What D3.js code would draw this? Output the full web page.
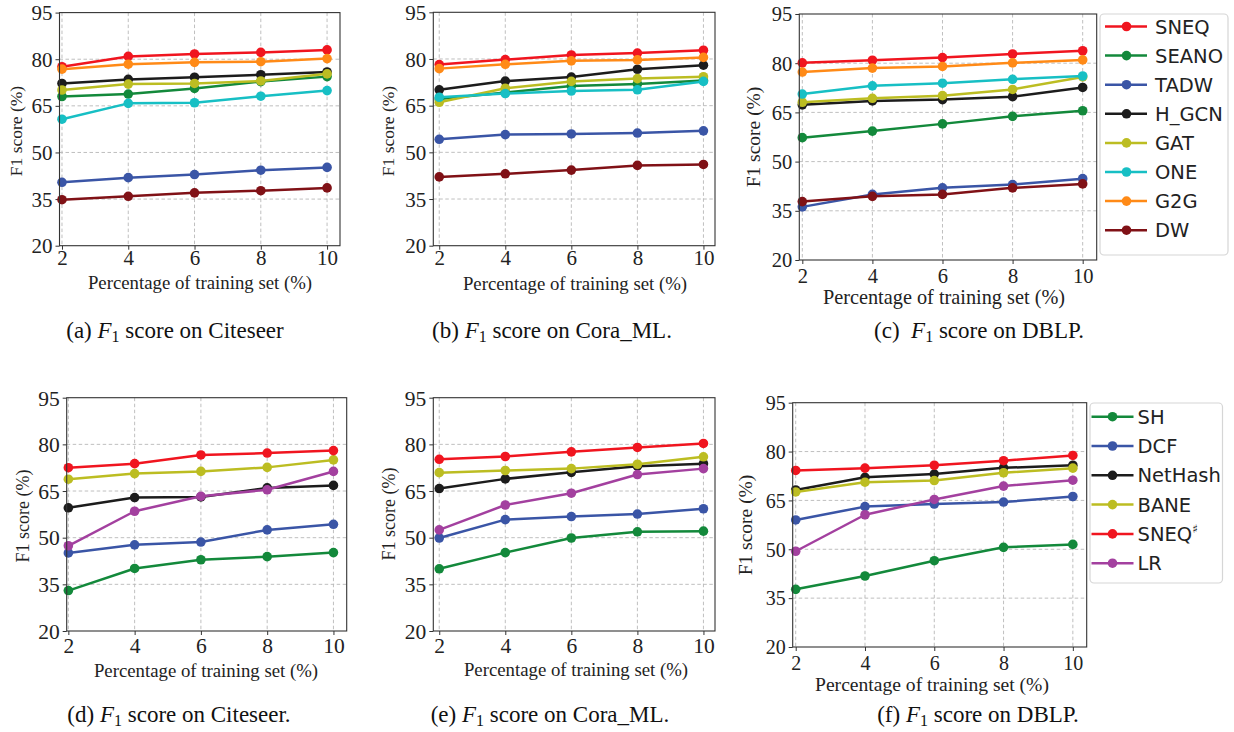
<!DOCTYPE html>
<html><head><meta charset="utf-8">
<script src="https://cdn.jsdelivr.net/npm/d3@7"></script>
<style>body{margin:0;background:#fff} svg{display:block}</style>
</head><body>
<svg id="chart" width="1234" height="732"></svg>
<script>
// ---------------- DATA ----------------
const xValues = [2, 4, 6, 8, 10];
const xTicks = [2, 4, 6, 8, 10];
const yTicks = [20, 35, 50, 65, 80, 95];

const topMethods = ["SNEQ", "SEANO", "TADW", "H_GCN", "GAT", "ONE", "G2G", "DW"];
const bottomMethods = ["SH", "DCF", "NetHash", "BANE", "SNEQ#", "LR"];

// rows follow topMethods order
const citeseerTop = [
  [77.6, 80.9, 81.7, 82.2, 83.0],
  [68.0, 68.8, 70.6, 72.8, 74.4],
  [40.4, 41.9, 42.9, 44.3, 45.2],
  [72.2, 73.5, 74.2, 75.0, 75.9],
  [70.1, 72.0, 72.2, 73.0, 75.3],
  [60.7, 65.8, 66.0, 68.1, 69.9],
  [76.8, 78.4, 79.0, 79.2, 80.2],
  [34.8, 35.9, 37.0, 37.7, 38.6]
];
const coraTop = [
  [78.2, 79.8, 81.3, 81.9, 82.8],
  [67.1, 69.2, 71.3, 72.0, 73.1],
  [54.2, 55.7, 55.9, 56.2, 56.9],
  [70.1, 72.9, 74.2, 76.7, 78.0],
  [66.1, 70.6, 72.8, 73.7, 74.3],
  [67.7, 68.9, 69.7, 70.1, 72.8],
  [76.9, 78.3, 79.4, 79.7, 80.5],
  [42.1, 43.1, 44.3, 45.8, 46.1]
];
const dblpTop = [
  [80.1, 80.9, 81.7, 82.8, 83.8],
  [57.3, 59.3, 61.5, 63.8, 65.5],
  [36.2, 40.0, 42.0, 43.0, 44.8],
  [67.3, 68.5, 68.9, 69.8, 72.6],
  [68.1, 69.3, 70.1, 72.0, 75.8],
  [70.6, 73.1, 73.9, 75.1, 76.1],
  [77.3, 78.5, 79.0, 80.1, 81.0],
  [37.8, 39.4, 40.0, 42.0, 43.2]
];
// rows follow bottomMethods order
const citeseerBottom = [
  [33.0, 40.1, 42.9, 43.9, 45.2],
  [45.1, 47.7, 48.6, 52.5, 54.3],
  [59.6, 62.9, 63.1, 66.0, 66.8],
  [68.8, 70.6, 71.3, 72.6, 75.0],
  [72.5, 73.8, 76.6, 77.2, 78.0],
  [47.4, 58.5, 63.3, 65.4, 71.3]
];
const coraBottom = [
  [40.0, 45.2, 49.9, 51.9, 52.1],
  [49.9, 55.8, 56.8, 57.6, 59.3],
  [65.8, 68.9, 71.0, 73.0, 73.8],
  [70.9, 71.6, 72.2, 73.6, 76.0],
  [75.2, 76.1, 77.6, 79.0, 80.3],
  [52.5, 60.5, 64.3, 70.3, 72.2]
];
const dblpBottom = [
  [37.7, 41.8, 46.5, 50.6, 51.5],
  [59.0, 63.1, 63.9, 64.5, 66.2],
  [68.2, 72.1, 73.1, 75.0, 75.8],
  [67.6, 70.6, 71.1, 73.5, 74.9],
  [74.2, 74.9, 75.8, 77.2, 78.8],
  [49.4, 60.6, 65.3, 69.4, 71.2]
];

const captionLetters = ["a", "b", "c", "d", "e", "f"];
const captionDatasets = ["Citeseer", "Cora_ML.", "DBLP.", "Citeseer.", "Cora_ML.", "DBLP."];
const xLabelText = "Percentage of training set (%)";
const yLabelText = "F1 score (%)";

// ---------------- STYLE / LAYOUT ----------------
const colors = {
  "SNEQ": "#f0151f", "SNEQ#": "#f0151f", "SEANO": "#13893b", "SH": "#13893b",
  "TADW": "#3a55a6", "DCF": "#3a55a6", "H_GCN": "#1c1c1c", "NetHash": "#1c1c1c",
  "GAT": "#bcbd22", "BANE": "#bcbd22", "ONE": "#17bfc4", "G2G": "#ff8a17",
  "DW": "#801116", "LR": "#a3409f"
};

const panels = [
  {data: citeseerTop, methods: topMethods, L: 59.5, R: 340, T: 12.6, B: 245.7, xlim: [1.925, 10.39],
   tickFs: 21, tickBase: 265, ylx: 22, yly: 131, ylFs: 17.5, xlx: 200, xly: 289, xlFs: 18.8, cx: 175, cy: 338},
  {data: coraTop, methods: topMethods, L: 433.3, R: 715, T: 12.3, B: 245.7, xlim: [1.82, 10.35],
   tickFs: 21, tickBase: 265, ylx: 394, yly: 131, ylFs: 17.5, xlx: 575, xly: 290, xlFs: 18.8, cx: 552, cy: 338},
  {data: dblpTop, methods: topMethods, L: 799.3, R: 1096.7, T: 14, B: 260, xlim: [1.914, 10.4],
   tickFs: 20.5, tickBase: 283, ylx: 760, yly: 137, ylFs: 19.5, xlx: 944, xly: 304, xlFs: 20.3, cx: 979, cy: 338},
  {data: citeseerBottom, methods: bottomMethods, L: 66.7, R: 346.7, T: 397.7, B: 631, xlim: [1.95, 10.4],
   tickFs: 21.5, tickBase: 653, ylx: 29, yly: 516, ylFs: 18, xlx: 206, xly: 677, xlFs: 18.8, cx: 179, cy: 722},
  {data: coraBottom, methods: bottomMethods, L: 433.3, R: 715, T: 397.7, B: 631, xlim: [1.82, 10.35],
   tickFs: 21.5, tickBase: 653, ylx: 395, yly: 514, ylFs: 18, xlx: 576, xly: 676, xlFs: 18.8, cx: 550, cy: 722},
  {data: dblpBottom, methods: bottomMethods, L: 792.7, R: 1086.7, T: 402.7, B: 647, xlim: [1.913, 10.4],
   tickFs: 20, tickBase: 670, ylx: 752, yly: 525, ylFs: 19.5, xlx: 932, xly: 691, xlFs: 19.6, cx: 978, cy: 722}
];

const legends = [
  {methods: topMethods, x0: 1100, y0: 14, w: 128, h: 241, first: 26.5, step: 29.1, lx0: 1105, lx1: 1147, mx: 1126.5, tx: 1155},
  {methods: bottomMethods, x0: 1090, y0: 403, w: 132.5, h: 180, first: 416.7, step: 29.3, lx0: 1091.5, lx1: 1133.5, mx: 1112.5, tx: 1137.5}
];

const serif = "'Liberation Serif','Times New Roman',Times,serif";
const sans = "'DejaVu Sans',Verdana,sans-serif";

const svg = d3.select("#chart");

panels.forEach((p, pi) => {
  const x = d3.scaleLinear().domain(p.xlim).range([p.L, p.R]);
  const y = d3.scaleLinear().domain([20, 95]).range([p.B, p.T]);
  const g = svg.append("g");

  // grid
  g.append("g").selectAll("line").data(yTicks.slice(1, -1)).join("line")
    .attr("x1", p.L).attr("x2", p.R).attr("y1", d => y(d)).attr("y2", d => y(d))
    .attr("stroke", "#b8b8b8").attr("stroke-width", 0.9).attr("stroke-dasharray", "3.5,2.5");
  g.append("g").selectAll("line").data(xTicks).join("line")
    .attr("x1", d => x(d)).attr("x2", d => x(d)).attr("y1", p.T).attr("y2", p.B)
    .attr("stroke", "#b8b8b8").attr("stroke-width", 0.9).attr("stroke-dasharray", "3.5,2.5");

  // axes via d3
  const yAxis = d3.axisLeft(y).tickValues(yTicks).tickSize(4).tickPadding(3).tickFormat(d3.format("d"));
  const xAxis = d3.axisBottom(x).tickValues(xTicks).tickSize(4).tickPadding(3).tickFormat(d3.format("d"));
  const ya = g.append("g").attr("transform", `translate(${p.L},0)`).call(yAxis);
  const xa = g.append("g").attr("transform", `translate(0,${p.B})`).call(xAxis);
  [ya, xa].forEach(a => {
    a.select(".domain").remove();
    a.selectAll(".tick line").attr("stroke", "#333").attr("stroke-width", 1);
    a.selectAll(".tick text").attr("font-family", serif).attr("font-size", p.tickFs).attr("fill", "#222");
  });
  ya.selectAll(".tick text").attr("dy", "0.34em");
  xa.selectAll(".tick text").attr("dy", null).attr("y", p.tickBase - p.B);

  // series
  p.methods.forEach((m, mi) => {
    const vals = p.data[mi];
    const pts = xValues.map((xv, i) => [xv, vals[i]]);
    const line = d3.line().x(d => x(d[0])).y(d => y(d[1]));
    g.append("path").datum(pts).attr("d", line).attr("fill", "none")
      .attr("stroke", colors[m]).attr("stroke-width", 2.5).attr("stroke-linejoin", "round");
    g.append("g").selectAll("circle").data(pts).join("circle")
      .attr("cx", d => x(d[0])).attr("cy", d => y(d[1])).attr("r", 4.8).attr("fill", colors[m]);
  });

  // frame
  g.append("rect").attr("x", p.L).attr("y", p.T).attr("width", p.R - p.L).attr("height", p.B - p.T)
    .attr("fill", "none").attr("stroke", "#333").attr("stroke-width", 1.1);

  // labels
  g.append("text").attr("transform", `translate(${p.ylx},${p.yly}) rotate(-90)`)
    .attr("text-anchor", "middle").attr("font-family", serif).attr("font-size", p.ylFs).attr("fill", "#222")
    .text(yLabelText);
  g.append("text").attr("x", p.xlx).attr("y", p.xly).attr("text-anchor", "middle")
    .attr("font-family", serif).attr("font-size", p.xlFs).attr("fill", "#222").text(xLabelText);

  // caption
  const c = g.append("text").attr("x", p.cx).attr("y", p.cy).attr("text-anchor", "middle")
    .attr("font-family", serif).attr("font-size", 23).attr("fill", "#111");
  c.append("tspan").text(`(${captionLetters[pi]})` + (pi === 2 ? "\u00a0\u00a0" : "\u00a0"));
  c.append("tspan").attr("font-style", "italic").text("F");
  c.append("tspan").attr("font-size", 16).attr("dy", 4).text("1");
  c.append("tspan").attr("dy", -4).text("\u00a0score on " + captionDatasets[pi]);
});

// legends
legends.forEach(lg => {
  const g = svg.append("g");
  g.append("rect").attr("x", lg.x0).attr("y", lg.y0).attr("width", lg.w).attr("height", lg.h)
    .attr("rx", 4).attr("fill", "#fff").attr("stroke", "#d6d6d6").attr("stroke-width", 1.2);
  lg.methods.forEach((m, i) => {
    const yy = lg.first + i * lg.step;
    g.append("line").attr("x1", lg.lx0).attr("x2", lg.lx1).attr("y1", yy).attr("y2", yy)
      .attr("stroke", colors[m]).attr("stroke-width", 2.5);
    g.append("circle").attr("cx", lg.mx).attr("cy", yy).attr("r", 4.8).attr("fill", colors[m]);
    const t = g.append("text").attr("x", lg.tx).attr("y", yy).attr("dy", "0.36em")
      .attr("font-family", sans).attr("font-size", 19.5).attr("fill", "#222");
    if (m.endsWith("#")) {
      t.append("tspan").text(m.slice(0, -1));
      t.append("tspan").attr("font-size", 12).attr("dy", -8).text("\u266F");
    } else {
      t.text(m);
    }
  });
});
</script>
</body></html>
